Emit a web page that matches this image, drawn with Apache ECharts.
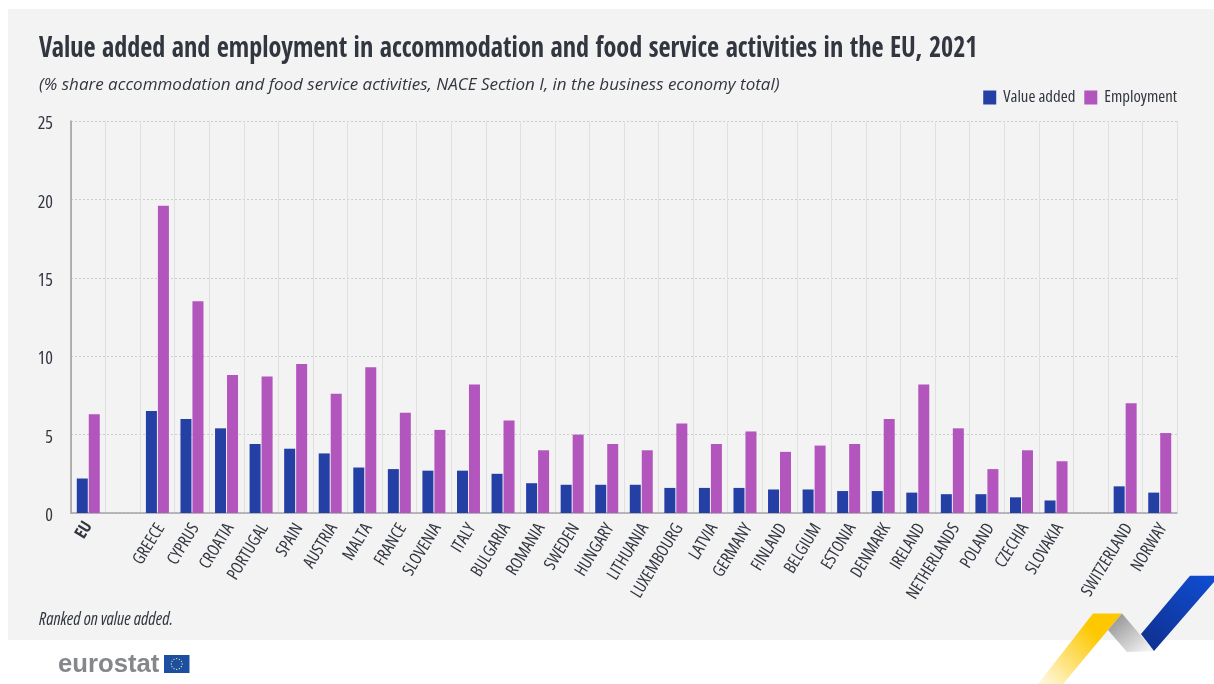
<!DOCTYPE html>
<html>
<head>
<meta charset="utf-8">
<style>html,body{margin:0;padding:0;background:#fff}#chart{width:1214px;height:684px}</style>
<script src="https://cdn.jsdelivr.net/npm/echarts@6/dist/echarts.min.js"></script>
</head>
<body>
<div id="chart"></div>
<script>
// Share of accommodation and food services in the business economy, 2021 (%)
const categories = ['EU', ' ', 'GREECE', 'CYPRUS', 'CROATIA', 'PORTUGAL', 'SPAIN', 'AUSTRIA', 'MALTA', 'FRANCE', 'SLOVENIA', 'ITALY', 'BULGARIA', 'ROMANIA', 'SWEDEN', 'HUNGARY', 'LITHUANIA', 'LUXEMBOURG', 'LATVIA', 'GERMANY', 'FINLAND', 'BELGIUM', 'ESTONIA', 'DENMARK', 'IRELAND', 'NETHERLANDS', 'POLAND', 'CZECHIA', 'SLOVAKIA', '  ', 'SWITZERLAND', 'NORWAY'];
const valueAdded = [2.2, null, 6.5, 6.0, 5.4, 4.4, 4.1, 3.8, 2.9, 2.8, 2.7, 2.7, 2.5, 1.9, 1.8, 1.8, 1.8, 1.6, 1.6, 1.6, 1.5, 1.5, 1.4, 1.4, 1.3, 1.2, 1.2, 1.0, 0.8, null, 1.7, 1.3];
const employment = [6.3, null, 19.6, 13.5, 8.8, 8.7, 9.5, 7.6, 9.3, 6.4, 5.3, 8.2, 5.9, 4.0, 5.0, 4.4, 4.0, 5.7, 4.4, 5.2, 3.9, 4.3, 4.4, 6.0, 8.2, 5.4, 2.8, 4.0, 3.3, null, 7.0, 5.1];

// The weight slot of the canvas font string also carries the width keyword
const OPEN = '"Open Sans", sans-serif';
const CONDENSED = 'condensed';
const CONDENSED_BOLD = 'bold condensed';
const INK = '#32363f';

// EU flag stars inside the logo's blue square
const stars = [];
for (let i = 0; i < 12; i++) {
  const a = i * Math.PI / 6;
  stars.push({
    type: 'circle', z: 7,
    shape: { cx: 176.7 + 5.4 * Math.cos(a), cy: 664 + 5.4 * Math.sin(a), r: 0.65 },
    style: { fill: '#ffe680' }
  });
}
const ramp = (x, y, x2, y2, from, to) => ({
  type: 'linear', x, y, x2, y2,
  colorStops: [{ offset: 0, color: from }, { offset: 1, color: to }]
});

const chart = echarts.init(document.getElementById('chart'), null, { renderer: 'canvas' });
chart.setOption({
  animation: false,
  backgroundColor: '#ffffff',
  textStyle: { fontFamily: OPEN },
  title: [
    {
      text: '(% share accommodation and food service activities, NACE Section I, in the business economy total)',
      left: 39, top: 77, padding: 0,
      textStyle: { fontFamily: OPEN, fontSize: 17, fontStyle: 'italic', fontWeight: 'normal', color: INK }
    },
    {
      text: 'Ranked on value added.',
      left: 39, top: 611, padding: 0,
      textStyle: { fontFamily: OPEN, fontSize: 17.5, fontStyle: 'italic', fontWeight: CONDENSED, color: INK }
    }
  ],
  legend: {
    right: 37, top: 89, padding: 0,
    itemWidth: 13, itemHeight: 14, itemGap: 9,
    icon: 'rect',
    textStyle: { fontFamily: OPEN, fontSize: 16.8, fontWeight: CONDENSED, color: INK, padding: [0, 0, 0, 2] },
    data: ['Value added', 'Employment']
  },
  grid: { left: 71, right: 37, top: 121, bottom: 171, containLabel: false },
  xAxis: {
    type: 'category',
    data: categories.map(c => c === 'EU'
      ? { value: c, textStyle: { fontWeight: CONDENSED_BOLD, color: INK } }
      : c),
    boundaryGap: true,
    axisLine: { show: true, lineStyle: { color: '#a3a5a8', width: 1.5 } },
    axisTick: { show: false },
    axisLabel: {
      interval: 0, rotate: 58.5, margin: 10, verticalAlign: 'top', lineHeight: 8,
      fontFamily: OPEN, fontSize: 17, fontWeight: CONDENSED, color: INK
    },
    splitLine: { show: true, interval: 0, lineStyle: { color: '#e0e0e0', width: 1 } }
  },
  yAxis: {
    type: 'value', min: 0, max: 25, interval: 5,
    axisLine: { show: true, lineStyle: { color: '#9b9b9b', width: 1.5 } },
    axisTick: { show: false },
    axisLabel: { margin: 18, verticalAlign: 'top', lineHeight: 6, fontFamily: OPEN, fontSize: 18, fontWeight: CONDENSED, color: INK },
    splitLine: { show: true, lineStyle: { color: '#cccccc', type: [2, 2], width: 1 } }
  },
  series: [
    { name: 'Value added', type: 'bar', data: valueAdded, barWidth: 11, barGap: '9%', itemStyle: { color: '#2540a5' } },
    { name: 'Employment', type: 'bar', data: employment, barWidth: 11, barGap: '9%', itemStyle: { color: '#b255bd' } }
  ],
  graphic: [
    // Grey panel behind the chart
    { type: 'rect', z: -10, silent: true, shape: { x: 8, y: 9, width: 1206, height: 631 }, style: { fill: '#f3f3f4' } },
    // Chart heading, narrowed to the headline width
    { type: 'text', z: 5, x: 39, y: 49, scaleX: 0.903,
      style: { x: 0, y: 0, text: 'Value added and employment in accommodation and food service activities in the EU, 2021',
        verticalAlign: 'middle', fontFamily: '"Open Sans Condensed", "Roboto Condensed", sans-serif', fontSize: 29, fontWeight: 'bold', fill: INK } },
    // Corner ribbon
    { type: 'polygon', z: 5, shape: { points: [[1093, 613.5], [1122, 613.5], [1108, 630], [1063, 684], [1038, 684]] },
      style: { fill: ramp(0.7, 0.3, 0.1, 1, '#fdc800', '#fff6d8') } },
    { type: 'polygon', z: 5, shape: { points: [[1108, 630], [1122, 613.5], [1154, 651], [1127, 652]] },
      style: { fill: ramp(0.2, 0.1, 0.8, 1, '#9a9a9c', '#f0f0f0') } },
    { type: 'polygon', z: 5, shape: { points: [[1190, 575.7], [1214, 575.7], [1214, 582], [1154, 651], [1141, 634]] },
      style: { fill: ramp(0.9, 0, 0.1, 1, '#0f4cd0', '#10308f') } },
    // Logo
    { type: 'text', z: 5, style: { x: 58, y: 652, text: 'eurostat', fontFamily: '"Liberation Sans", sans-serif', fontSize: 25.7, fontWeight: 'bold', fill: '#85878b' } },
    { type: 'rect', z: 5, shape: { x: 164, y: 655, width: 25.5, height: 18 }, style: { fill: '#1c4ea1' } },
    { type: 'group', children: stars }
  ]
});
</script>
</body>
</html>
